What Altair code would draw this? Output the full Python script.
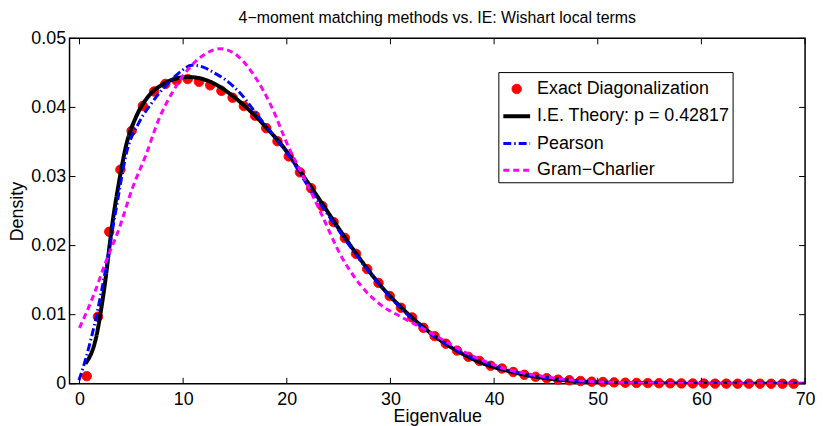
import altair as alt
import pandas as pd

TITLE = "4\u2212moment matching methods vs. IE: Wishart local terms"
series_names = ["Exact Diagonalization", "I.E. Theory: p = 0.42817", "Pearson", "Gram\u2212Charlier"]
series_colors = ["#ff0000", "#000000", "#0000ff", "#ff00ff"]

# Exact diagonalization histogram points
ed_x = [0.70, 1.78, 2.87, 3.95, 5.03, 6.11, 7.20, 8.28, 9.36, 10.44,
        11.53, 12.61, 13.69, 14.77, 15.86, 16.94, 18.02, 19.10, 20.19, 21.27,
        22.35, 23.43, 24.52, 25.60, 26.68, 27.76, 28.85, 29.93, 31.01, 32.09,
        33.18, 34.26, 35.34, 36.42, 37.51, 38.59, 39.67, 40.75, 41.84, 42.92,
        44.00, 45.08, 46.17, 47.25, 48.33, 49.41, 50.50, 51.58, 52.66, 53.74,
        54.83, 55.91, 56.99, 58.07, 59.16, 60.24, 61.32, 62.40, 63.49, 64.57,
        65.65, 66.73, 67.82, 68.90]
ed_y = [0.0011, 0.0097, 0.0220, 0.0310, 0.0366, 0.0402, 0.0423, 0.0434, 0.0439, 0.0441,
        0.0437, 0.0432, 0.0424, 0.0414, 0.0402, 0.0388, 0.0370, 0.0351, 0.0329, 0.0306,
        0.0283, 0.0257, 0.0234, 0.0211, 0.0188, 0.0166, 0.0146, 0.0127, 0.0110, 0.0096,
        0.0081, 0.0069, 0.0058, 0.0048, 0.0039, 0.0033, 0.0026, 0.0022, 0.0017, 0.0013,
        0.0010, 0.0008, 0.0006, 0.0005, 0.0004, 0.0003, 0.00025, 0.0002, 0.00015, 0.00012,
        0.0001, 0.00008, 0.00006, 0.00005, 0.00004, 0.00003, 0.00002, 0.00002, 0.00001, 0.00001,
        0.00001, 0.0, 0.0, 0.0]

# I.E. theory curve
ie_x = [0.57, 1.6, 2.4, 3.2, 3.85, 4.5, 5.45, 6.7, 8.0, 9.25, 10.5, 11.8, 13.4, 15.0,
        16.6, 18.2, 19.8, 21.4, 23.0, 25.0, 27.0, 29.0, 31.0, 33.0, 35.0, 37.0, 39.0,
        41.0, 43.0, 45.0, 47.0, 50.0, 55.0, 60.0, 65.0, 70.0]
ie_y = [0.0029, 0.0067, 0.0139, 0.0235, 0.0295, 0.0345, 0.0386, 0.0417, 0.0433, 0.04415,
        0.0444, 0.04415, 0.0431, 0.0414, 0.0393, 0.0368, 0.0340, 0.0305, 0.0270, 0.0225,
        0.0182, 0.0143, 0.0111, 0.0084, 0.0061, 0.0043, 0.0029, 0.0020, 0.0013, 0.0008,
        0.0005, 0.0002, 0.00005, 0.00001, 0.0, 0.0]

# Pearson curve
pe_x = [-0.05, 0.5, 1.6, 2.55, 3.5, 4.6, 5.7, 7.0, 8.3, 9.6, 10.85, 12.0, 13.0, 14.0,
        15.6, 17.2, 18.8, 20.4, 22.0, 24.0, 26.0, 28.0, 30.0, 32.0, 34.0, 36.0, 38.0,
        40.0, 42.0, 44.0, 46.0, 48.0, 50.0, 55.0, 60.0, 70.0]
pe_y = [0.0005, 0.0031, 0.0096, 0.0168, 0.0250, 0.0338, 0.0377, 0.0407, 0.0431, 0.0450,
        0.0461, 0.0458, 0.0450, 0.0441, 0.0419, 0.0388, 0.0358, 0.0326, 0.0287, 0.0244,
        0.0201, 0.0161, 0.0125, 0.0095, 0.0071, 0.0052, 0.0037, 0.0026, 0.0017, 0.0011,
        0.0007, 0.0004, 0.0002, 0.00005, 0.0, 0.0]

# Gram-Charlier curve
gc_x = [0.0, 1.28, 2.55, 3.83, 5.1, 6.38, 7.66, 8.93, 10.2, 11.8, 13.56, 15.3, 16.9,
        18.5, 20.1, 21.6, 23.3, 25.2, 27.1, 29.0, 31.0, 33.0, 35.0, 37.0, 39.0, 41.0,
        43.0, 45.0, 47.0, 50.0, 55.0, 60.0, 70.0]
gc_y = [0.0081, 0.0125, 0.0177, 0.0225, 0.0283, 0.0330, 0.0383, 0.0421, 0.0450, 0.0474,
        0.0485, 0.0474, 0.0445, 0.0402, 0.0345, 0.0300, 0.0247, 0.0186, 0.0143, 0.0115,
        0.0097, 0.0081, 0.0064, 0.0047, 0.0033, 0.0022, 0.0015, 0.0010, 0.0006, 0.0003,
        0.0001, 0.00002, 0.0]

x_ticks = [0, 10, 20, 30, 40, 50, 60, 70]
y_ticks = [0, 0.01, 0.02, 0.03, 0.04, 0.05]

FONT = "Liberation Sans"
W, H = 741, 348
TICK = 6

CIRCLE = "M-0.35,0A0.35,0.35,0,1,1,0.35,0A0.35,0.35,0,1,1,-0.35,0Z"
shape_range = [CIRCLE, "stroke", "stroke", "stroke"]
dash_range = [[1, 0], [1, 0], [8, 3, 1.5, 3], [6, 4]]
width_range = [1, 4, 3, 3]


def frame(xs, ys, name):
    return pd.DataFrame({"x": xs, "y": ys, "series": name})


ed_df = frame(ed_x, ed_y, series_names[0])
ie_df = frame(ie_x, ie_y, series_names[1])
pe_df = frame(pe_x, pe_y, series_names[2])
gc_df = frame(gc_x, gc_y, series_names[3])

xscale = alt.Scale(domain=[-0.96, 70], nice=False, zero=False)
yscale = alt.Scale(domain=[0, 0.05], nice=False, zero=False)

xaxis = alt.Axis(values=x_ticks, tickSize=0, domain=False, grid=False,
                 labelFontSize=18, labelFont=FONT, labelColor="black", labelPadding=7,
                 labelFlush=False, labelOverlap=False,
                 title="Eigenvalue", titleFontSize=18, titleFont=FONT,
                 titleFontWeight="normal", titleColor="black",
                 titleY=33, titleBaseline="middle")
yaxis = alt.Axis(values=y_ticks, tickSize=0, domain=False, grid=False,
                 labelFontSize=18, labelFont=FONT, labelColor="black", labelPadding=4,
                 labelFlush=False, labelOverlap=False,
                 labelExpr="datum.value == 0 ? '0' : format(datum.value, '.2f')",
                 title="Density", titleFontSize=18, titleFont=FONT,
                 titleFontWeight="normal", titleColor="black",
                 titleX=-52, titleY=174, titleAngle=270, titleBaseline="middle")

X = alt.X("x:Q", scale=xscale, axis=xaxis)
Y = alt.Y("y:Q", scale=yscale, axis=yaxis)

legend = alt.Legend(title=None, orient="none", legendX=432, legendY=34,
                    labelFontSize=18, labelFont=FONT, labelColor="black",
                    labelOffset=5, symbolSize=729, rowPadding=3, padding=3,
                    strokeColor="black", fillColor="white", labelLimit=400)

stroke_enc = alt.Stroke("series:N", scale=alt.Scale(domain=series_names, range=series_colors), legend=legend)
fill_enc = alt.Fill("series:N", scale=alt.Scale(domain=series_names, range=series_colors), legend=legend)
dash_enc = alt.StrokeDash("series:N", scale=alt.Scale(domain=series_names, range=dash_range), legend=legend)
width_enc = alt.StrokeWidth("series:N", scale=alt.Scale(type="ordinal", domain=series_names, range=width_range), legend=legend)
shape_enc = alt.Shape("series:N", scale=alt.Scale(domain=series_names, range=shape_range), legend=legend)

points = alt.Chart(ed_df).mark_point(size=729, opacity=1).encode(
    x=X, y=Y, fill=fill_enc, stroke=stroke_enc, shape=shape_enc,
    strokeDash=dash_enc, strokeWidth=width_enc)


def curve(df):
    return alt.Chart(df).mark_line(interpolate="monotone", clip=True).encode(
        x=X, y=Y, stroke=stroke_enc, strokeDash=dash_enc, strokeWidth=width_enc)


xt = pd.DataFrame({"x": x_ticks})
yt = pd.DataFrame({"y": y_ticks})
tick_style = dict(color="black", strokeWidth=1)
bottom_ticks = alt.Chart(xt).mark_rule(**tick_style).encode(x=X, y=alt.value(H), y2=alt.value(H - TICK))
top_ticks = alt.Chart(xt).mark_rule(**tick_style).encode(x=X, y=alt.value(0), y2=alt.value(TICK))
left_ticks = alt.Chart(yt).mark_rule(**tick_style).encode(y=Y, x=alt.value(0), x2=alt.value(TICK))
right_ticks = alt.Chart(yt).mark_rule(**tick_style).encode(y=Y, x=alt.value(W), x2=alt.value(W - TICK))

chart = alt.layer(
    points, curve(ie_df), curve(pe_df), curve(gc_df),
    bottom_ticks, top_ticks, left_ticks, right_ticks
).properties(
    width=W, height=H,
    title=alt.TitleParams(TITLE, fontSize=16, font=FONT, fontWeight="normal",
                          anchor="middle", color="black", offset=3),
    autosize=alt.AutoSizeParams(type="none"),
    padding={"left": 62, "top": 29, "right": 10, "bottom": 41},
).configure_view(stroke="black", strokeWidth=1.5)

chart.save("out.html", embed_options={"renderer": "svg", "actions": False})
